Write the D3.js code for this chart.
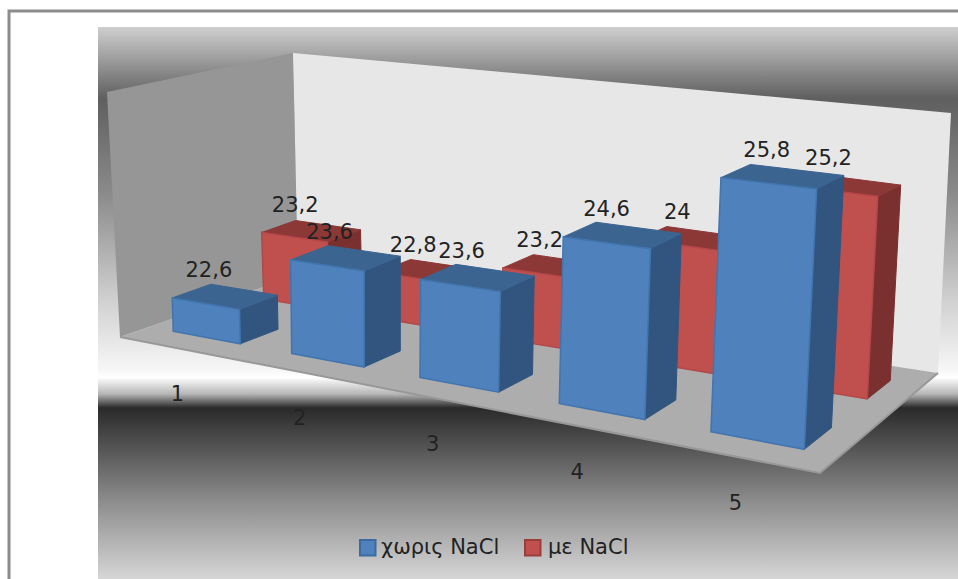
<!DOCTYPE html>
<html>
<head>
<meta charset="utf-8">
<script src="https://cdn.jsdelivr.net/npm/d3@7"></script>
<style>
  html, body { margin: 0; padding: 0; background: #fff; overflow: hidden; }
  text { font-family: "DejaVu Sans", sans-serif; fill: #222; }
</style>
</head>
<body>
<svg id="chart" width="958" height="579"></svg>
<script>
// Chart data
const categories = ["1", "2", "3", "4", "5"];
const seriesNames = ["χωρις NaCl", "με NaCl"];
const valuesWithout = [22.6, 23.6, 23.6, 24.6, 25.8];
const valuesWith = [23.2, 22.8, 23.2, 24, 25.2];
const axisDomain = [22, 26];

// Face colours per series: front, top, side, outline, swatch border
const palette = [
  { front: "#4f81bd", top: "#3b6491", side: "#31557f", edge: "#4274ae", swatch: "#3a6a9f" },
  { front: "#c0504d", top: "#8c3836", side: "#7a302e", edge: "#b5474a", swatch: "#9a3e3b" }
];

// Scene frame in page pixels
const floorA = [120, 337], floorB = [820, 473], floorC = [938, 373], floorD = [298, 275];
const wallTopFront = [107, 92], wallTopBack = [293, 53], wallTopRight = [951, 113];

// Square-to-quad homography for the floor plane (u along categories, v into depth)
function floorHomography(p0, p1, p2, p3) {
  const dx1 = p1[0] - p2[0], dx2 = p3[0] - p2[0], dx3 = p0[0] - p1[0] + p2[0] - p3[0];
  const dy1 = p1[1] - p2[1], dy2 = p3[1] - p2[1], dy3 = p0[1] - p1[1] + p2[1] - p3[1];
  const den = dx1 * dy2 - dx2 * dy1;
  const g = (dx3 * dy2 - dx2 * dy3) / den;
  const h = (dx1 * dy3 - dx3 * dy1) / den;
  const a = p1[0] - p0[0] + g * p1[0], b = p3[0] - p0[0] + h * p3[0];
  const d = p1[1] - p0[1] + g * p1[1], e = p3[1] - p0[1] + h * p3[1];
  return (u, v) => {
    const w = 1 + g * u + h * v;
    return [(p0[0] + a * u + b * v) / w, (p0[1] + d * u + e * v) / w];
  };
}
const floorPlane = floorHomography(floorA, floorB, floorC, floorD);

// Softens the foreshortening along the category direction
const onFloor = (u, v) => floorPlane(u + 0.065 * u * (1 - u), v);

// Full-axis rise above the floor, varying over the floor position
function rise(u, v) {
  const left = 220;
  const right = 283 + (239 - 283) * v;
  return [-8 + 22 * u, -(left + (right - left) * u)];
}
function project(u, v, t) {
  const f = onFloor(u, v), r = rise(u, v);
  return [f[0] + r[0] * t, f[1] + r[1] * t];
}

const x = d3.scaleBand().domain(categories).range([0, 1]).paddingInner(0.425).paddingOuter(0.2125);
const depth = d3.scaleBand().domain(seriesNames).range([0, 1]).paddingInner(0.59).paddingOuter(0.295);
const height = d3.scaleLinear().domain(axisDomain).range([0, 1]);

const svg = d3.select("#chart");
const line = d3.line();
const closed = pts => line(pts) + "Z";

// Backdrop gradient of the chart area
const stops = [
  [0, "#cfcfcf"], [0.05, "#a4a4a4"], [0.13, "#5f5f5f"], [0.3, "#8a8a8a"],
  [0.5, "#d2d2d2"], [0.62, "#f6f6f6"], [0.635, "#ffffff"], [0.665, "#b5b5b5"],
  [0.69, "#2a2a2a"], [0.75, "#4d4d4d"], [0.86, "#8d8d8d"], [1, "#d6d6d6"]
];
const grad = svg.append("defs").append("linearGradient")
  .attr("id", "backdrop").attr("x1", 0).attr("y1", 0).attr("x2", 0).attr("y2", 1);
grad.selectAll("stop").data(stops).join("stop")
  .attr("offset", d => d[0]).attr("stop-color", d => d[1]);

// Outer chart border, open on the right and bottom
svg.append("path").attr("d", "M9,579V11H958").attr("fill", "none")
  .attr("stroke", "#8c8c8c").attr("stroke-width", 3);

svg.append("rect").attr("x", 98).attr("y", 27).attr("width", 860).attr("height", 552)
  .attr("fill", "url(#backdrop)");

// Walls and floor
svg.append("path").attr("d", closed([floorA, floorD, wallTopBack, wallTopFront])).attr("fill", "#969696");
svg.append("path").attr("d", closed([floorD, floorC, wallTopRight, wallTopBack])).attr("fill", "#e7e7e7");
svg.append("path").attr("d", closed([floorA, floorB, floorC, floorD])).attr("fill", "#adadad");
svg.append("path").attr("d", line([floorA, floorB, floorC])).attr("fill", "none")
  .attr("stroke", "#989898").attr("stroke-width", 2);

// One box per value; the rear row is painted first
function drawRow(values, seriesIndex) {
  const name = seriesNames[seriesIndex];
  const colors = palette[seriesIndex];
  const v0 = depth(name), v1 = v0 + depth.bandwidth();
  const rows = categories.map((c, i) => ({ c, value: values[i] }));
  const g = svg.append("g").attr("class", "series");
  const boxes = g.selectAll("g").data(rows).join("g");
  const uL = d => x(d.c), uR = d => x(d.c) + x.bandwidth(), tt = d => height(d.value);

  boxes.append("path").attr("fill", colors.side).attr("stroke", colors.side).attr("stroke-width", 1)
    .attr("d", d => closed([project(uR(d), v0, 0), project(uR(d), v1, 0), project(uR(d), v1, tt(d)), project(uR(d), v0, tt(d))]));
  boxes.append("path").attr("fill", colors.top).attr("stroke", colors.top).attr("stroke-width", 1)
    .attr("d", d => closed([project(uL(d), v0, tt(d)), project(uR(d), v0, tt(d)), project(uR(d), v1, tt(d)), project(uL(d), v1, tt(d))]));
  boxes.append("path").attr("fill", colors.front).attr("stroke", colors.edge).attr("stroke-width", 1.5)
    .attr("d", d => closed([project(uL(d), v0, 0), project(uR(d), v0, 0), project(uR(d), v0, tt(d)), project(uL(d), v0, tt(d))]));
}
drawRow(valuesWith, 1);
drawRow(valuesWithout, 0);

// Value labels sit above each box, over every box
function drawLabels(values, seriesIndex) {
  const name = seriesNames[seriesIndex];
  const vMid = depth(name) + depth.bandwidth() / 2;
  svg.append("g").selectAll("text")
    .data(categories.map((c, i) => ({ c, value: values[i] })))
    .join("text")
    .attr("text-anchor", "middle")
    .attr("font-size", 21)
    .attr("dy", "0.36em")
    .attr("x", d => project(x(d.c) + x.bandwidth() / 2, vMid, height(d.value))[0] - 16)
    .attr("y", d => project(x(d.c) + x.bandwidth() / 2, vMid, height(d.value))[1] - 27)
    .text(d => String(d.value).replace(".", ","));
}
drawLabels(valuesWith, 1);
drawLabels(valuesWithout, 0);

// Category labels hang a fixed distance below the floor's front edge
svg.append("g").selectAll("text").data(categories).join("text")
  .attr("text-anchor", "middle").attr("font-size", 21).attr("dy", "0.36em")
  .attr("x", c => onFloor(x(c) + x.bandwidth() / 2, 0)[0])
  .attr("y", c => onFloor(x(c) + x.bandwidth() / 2, 0)[1] + 45.5)
  .text(c => c);

// Legend
const legendItems = [
  { name: seriesNames[0], swatch: 360, text: 381 },
  { name: seriesNames[1], swatch: 525, text: 548 }
];
const legend = svg.append("g");
legendItems.forEach((it, i) => {
  legend.append("rect").attr("x", it.swatch).attr("y", 540).attr("width", 15.5).attr("height", 15.5)
    .attr("fill", palette[i].front).attr("stroke", palette[i].swatch).attr("stroke-width", 2);
  legend.append("text").attr("x", it.text).attr("y", 554).attr("font-size", 21).text(it.name);
});
</script>
</body>
</html>
